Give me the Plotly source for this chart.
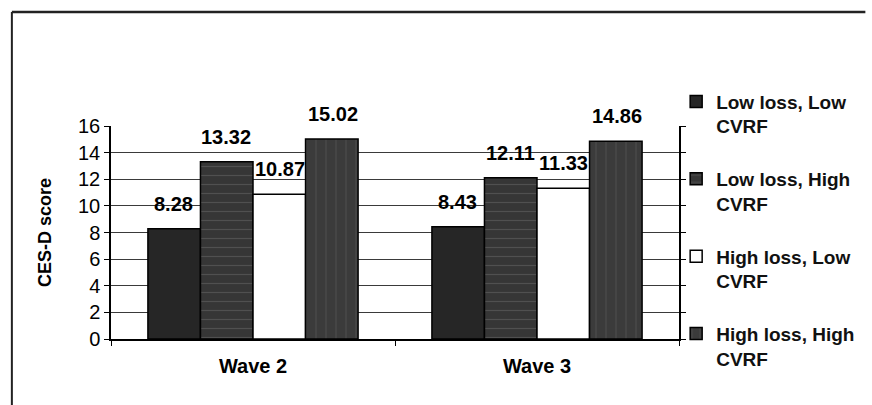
import plotly.graph_objects as go

# CES-D scores by wave for the four loss / CVRF groups
waves = ["Wave 2", "Wave 3"]
group_names = [
    "Low loss, Low<br>CVRF",
    "Low loss, High<br>CVRF",
    "High loss, Low<br>CVRF",
    "High loss, High<br>CVRF",
]
low_loss_low_cvrf = [8.28, 8.43]
low_loss_high_cvrf = [13.32, 12.11]
high_loss_low_cvrf = [10.87, 11.33]
high_loss_high_cvrf = [15.02, 14.86]
y_ticks = [0, 2, 4, 6, 8, 10, 12, 14, 16]

series = [low_loss_low_cvrf, low_loss_high_cvrf, high_loss_low_cvrf, high_loss_high_cvrf]

styles = [
    dict(color="#262626", pattern=None),
    dict(color="#363636", pattern=dict(shape="-", fgcolor="#6a6a6a", bgcolor="#363636",
                                       size=9, solidity=0.12)),
    dict(color="#ffffff", pattern=None),
    dict(color="#3b3b3b", pattern=dict(shape="|", fgcolor="#646464", bgcolor="#3b3b3b",
                                       size=10, solidity=0.1)),
]

FONT = "Liberation Sans, Arial, sans-serif"
W, H = 872, 405
margin = dict(l=111, r=188, t=126, b=66)
plot_w = W - margin["l"] - margin["r"]
plot_h = H - margin["t"] - margin["b"]
bargap = 0.26

fig = go.Figure()
for i, (name, vals, st) in enumerate(zip(group_names, series, styles)):
    marker = dict(color=st["color"], line=dict(color="#000000", width=1.5))
    if st["pattern"]:
        marker["pattern"] = st["pattern"]
    fig.add_trace(go.Bar(
        x=waves, y=vals, name=name, marker=marker,
        legendgroup=f"g{i}", hoverinfo="skip",
    ))

# value labels, centred over each bar and lifted clear of its top
cat_px = plot_w / len(waves)
bar_px = cat_px * (1 - bargap) / len(series)
for i, vals in enumerate(series):
    for w, v in zip(waves, vals):
        fig.add_annotation(
            x=w, y=v, text=f"{v:.2f}", showarrow=False,
            xshift=(i - 1.5) * bar_px, yshift=25,
            font=dict(family=FONT, size=20, color="#000000", weight="bold"),
        )

# outer frame (left and top edges)
frame_left = (11 - margin["l"]) / plot_w
frame_top = (H - margin["b"] - 12) / plot_h
frame_bottom = (H - margin["b"] - H) / plot_h
frame_right = (W - margin["l"]) / plot_w
fig.add_shape(type="line", xref="paper", yref="paper",
              x0=frame_left, x1=frame_left, y0=frame_bottom, y1=frame_top,
              line=dict(color="#222222", width=2))
fig.add_shape(type="line", xref="paper", yref="paper",
              x0=frame_left, x1=frame_right, y0=frame_top, y1=frame_top,
              line=dict(color="#222222", width=2.5))

fig.update_layout(
    width=W, height=H, margin=margin,
    paper_bgcolor="#ffffff", plot_bgcolor="#ffffff",
    barmode="group", bargap=bargap, bargroupgap=0,
    font=dict(family=FONT, color="#000000"),
    showlegend=True,
    legend=dict(
        x=0.995, xanchor="left", y=1.204, yanchor="top",
        font=dict(family=FONT, size=19, color="#111111", weight="bold"),
        tracegroupgap=25, valign="top", itemwidth=30,
        bgcolor="rgba(0,0,0,0)", maxheight=400,
    ),
)
fig.update_xaxes(
    showline=True, linecolor="#000000", linewidth=1.5,
    ticks="outside", tickson="boundaries", ticklen=5, tickcolor="#000000",
    tickfont=dict(family=FONT, size=20, weight="bold"),
    ticklabelstandoff=8, showgrid=False,
)
fig.update_yaxes(
    range=[0, 16], tickvals=y_ticks, ticks="outside", ticklen=5,
    tickcolor="#000000", showline=True, linecolor="#000000", linewidth=1.5,
    mirror="ticks", showgrid=True, gridcolor="#3a3a3a", gridwidth=1.3,
    tickfont=dict(family=FONT, size=20),
    title=dict(text="CES-D score", standoff=22,
               font=dict(family=FONT, size=18, weight="bold")),
    zeroline=False,
)

fig.write_html("out.html")
